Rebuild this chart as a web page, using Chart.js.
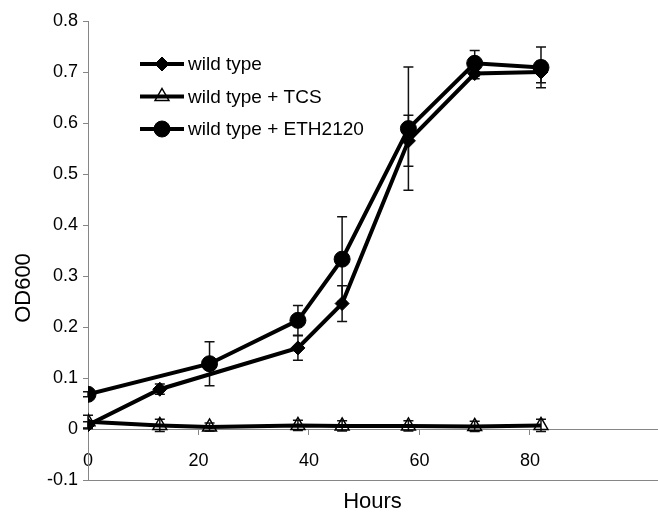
<!DOCTYPE html>
<html>
<head>
<meta charset="utf-8">
<script src="https://cdn.jsdelivr.net/npm/chart.js"></script>
<style>
  body { margin: 0; background: #fff; }
  #wrap { width: 658px; height: 517px; }
</style>
</head>
<body>
<div id="wrap"><canvas id="growth" width="658" height="517"></canvas></div>
<script>
// values (OD600 vs hours)
var hours = [0, 13, 22, 38, 46, 58, 70, 82];
var xTicks = [0, 20, 40, 60, 80];

var seriesNames = ['wild type', 'wild type + TCS', 'wild type + ETH2120'];

var wildType    = [0.008, 0.078, null, 0.159, 0.246, 0.565, 0.697, 0.700];
var wildTypeErr = [0.006, 0.010, null, 0.024, 0.035, 0.050, 0.010, 0.021];

var tcs    = [0.014, 0.007, 0.004, 0.007, 0.006, 0.006, 0.005, 0.007];
var tcsErr = [0.013, 0.012, 0.008, 0.010, 0.010, 0.010, 0.010, 0.012];

var eth    = [0.068, null, 0.128, 0.213, 0.333, 0.589, 0.717, 0.709];
var ethErr = [0.005, null, 0.043, 0.029, 0.083, 0.121, 0.025, 0.040];

var axisGray = '#868686';
Chart.defaults.font.family = '"Liberation Sans", Arial, sans-serif';
Chart.defaults.color = '#000';

function points(vals) {
    var out = [];
    for (var i = 0; i < hours.length; i++) {
        if (vals[i] != null) out.push({ x: hours[i], y: vals[i] });
    }
    return out;
}
function errs(vals, e) {
    var out = [];
    for (var i = 0; i < hours.length; i++) {
        if (vals[i] != null) out.push(e[i]);
    }
    return out;
}

function series(label, vals, e, style, radius, fill) {
    return {
        label: label,
        data: points(vals),
        errors: errs(vals, e),
        borderColor: '#000',
        borderWidth: 4,
        pointStyle: style,
        pointRadius: radius,
        pointHoverRadius: radius,
        pointBackgroundColor: fill,
        pointBorderColor: '#000',
        pointBorderWidth: style == 'triangle' ? 1.5 : 1,
        tension: 0
    };
}

// vertical error bars, drawn under the markers
var errorBars = {
    id: 'errorBars',
    beforeDatasetsDraw: function(chart) {
        var ctx = chart.ctx, xs = chart.scales.x, ys = chart.scales.y;
        ctx.save();
        ctx.strokeStyle = '#111';
        ctx.lineWidth = 1.5;
        chart.data.datasets.forEach(function(ds) {
            ds.data.forEach(function(p, i) {
                var e = ds.errors[i];
                var px = xs.getPixelForValue(p.x);
                var top = ys.getPixelForValue(p.y + e);
                var bot = ys.getPixelForValue(p.y - e);
                ctx.beginPath();
                ctx.moveTo(px, top); ctx.lineTo(px, bot);
                ctx.moveTo(px - 5, top); ctx.lineTo(px + 5, top);
                ctx.moveTo(px - 5, bot); ctx.lineTo(px + 5, bot);
                ctx.stroke();
            });
        });
        ctx.restore();
    }
};

function marker(ctx, style, x, y, r, fill) {
    ctx.beginPath();
    if (style == 'circle') {
        ctx.arc(x, y, r, 0, Math.PI * 2);
    } else if (style == 'rectRot') {
        ctx.moveTo(x, y - r); ctx.lineTo(x + r, y); ctx.lineTo(x, y + r); ctx.lineTo(x - r, y);
        ctx.closePath();
    } else {
        var h = r * 0.866;
        ctx.moveTo(x, y - r); ctx.lineTo(x + h, y + r / 2); ctx.lineTo(x - h, y + r / 2);
        ctx.closePath();
    }
    ctx.fillStyle = fill;
    ctx.fill();
    ctx.lineWidth = style == 'triangle' ? 1.5 : 1;
    ctx.strokeStyle = '#000';
    ctx.stroke();
}

// Excel-style legend inside the plot: line + marker + label
var lineLegend = {
    id: 'lineLegend',
    afterDraw: function(chart) {
        var ctx = chart.ctx, a = chart.chartArea;
        var x0 = a.left + 52, y0 = a.top + 43;
        ctx.save();
        ctx.font = '19px "Liberation Sans", Arial, sans-serif';
        ctx.textBaseline = 'middle';
        chart.data.datasets.forEach(function(ds, i) {
            var y = y0 + i * 32.5;
            ctx.beginPath();
            ctx.strokeStyle = '#000';
            ctx.lineWidth = 4;
            ctx.moveTo(x0, y); ctx.lineTo(x0 + 44, y);
            ctx.stroke();
            marker(ctx, ds.pointStyle, x0 + 22, y, ds.pointRadius, ds.pointBackgroundColor);
            ctx.fillStyle = '#000';
            ctx.fillText(ds.label, x0 + 48, y + 1);
        });
        ctx.restore();
    }
};

// rotated y title, placed like the original (a bit below centre)
var yTitle = {
    id: 'yTitle',
    afterDraw: function(chart) {
        var ctx = chart.ctx, a = chart.chartArea;
        ctx.save();
        ctx.translate(a.left - 64, a.top + 267);
        ctx.rotate(-Math.PI / 2);
        ctx.font = '22px "Liberation Sans", Arial, sans-serif';
        ctx.fillStyle = '#000';
        ctx.textAlign = 'center';
        ctx.textBaseline = 'middle';
        ctx.fillText('OD600', 0, 0);
        ctx.restore();
    }
};

function noSidePadding(scale) {
    scale.paddingLeft = 0;
    scale.paddingRight = 0;
}

new Chart(document.getElementById('growth'), {
    type: 'line',
    data: {
        datasets: [
            series(seriesNames[0], wildType, wildTypeErr, 'rectRot', 7, '#000'),
            series(seriesNames[1], tcs, tcsErr, 'triangle', 8, 'rgba(0,0,0,0)'),
            series(seriesNames[2], eth, ethErr, 'circle', 8, '#000')
        ]
    },
    options: {
        responsive: false,
        animation: false,
        layout: { autoPadding: false, padding: { left: 0, right: 1, top: 21, bottom: 0 } },
        plugins: {
            legend: { display: false },
            tooltip: { enabled: false }
        },
        scales: {
            x: {
                type: 'linear',
                position: { y: 0 },
                min: 0,
                max: 103,
                afterBuildTicks: function(scale) {
                    scale.ticks = xTicks.map(function(v) { return { value: v }; });
                },
                afterFit: noSidePadding,
                grid: { drawOnChartArea: false, drawTicks: true, tickLength: 5, color: axisGray },
                border: { color: axisGray, width: 1 },
                ticks: { font: { size: 18 }, padding: 16, maxRotation: 0 }
            },
            x2: {
                type: 'linear',
                position: 'bottom',
                min: 0,
                max: 103,
                grid: { display: false },
                border: { display: true, color: axisGray, width: 1 },
                ticks: { display: false },
                title: { display: true, text: 'Hours', font: { size: 22 }, padding: { top: 0, bottom: 2 } },
                afterFit: function(scale) { scale.height = 37; noSidePadding(scale); }
            },
            y: {
                min: -0.1,
                max: 0.8,
                grid: { drawOnChartArea: false, drawTicks: true, tickLength: 5, color: axisGray },
                border: { color: axisGray, width: 1 },
                ticks: {
                    stepSize: 0.1,
                    font: { size: 18 },
                    padding: 5,
                    callback: function(v) { return String(Math.round(v * 10) / 10); }
                },
                afterFit: function(scale) { scale.width = 88; }
            }
        }
    },
    plugins: [errorBars, lineLegend, yTitle]
});
</script>
</body>
</html>
